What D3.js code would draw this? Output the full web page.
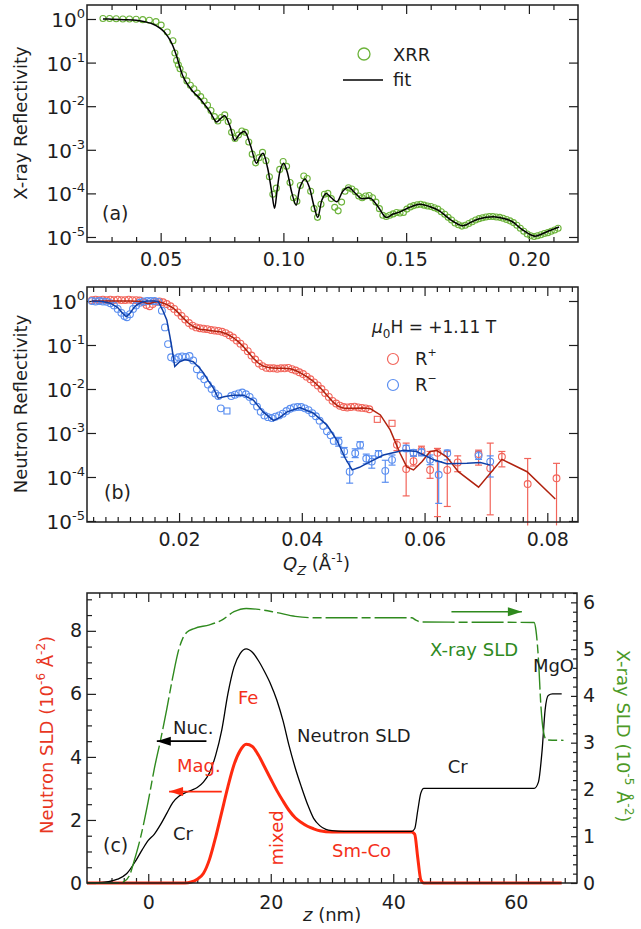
<!DOCTYPE html>
<html><head><meta charset="utf-8">
<script src="https://cdn.jsdelivr.net/npm/d3@7"></script>
<style>body{margin:0;background:#fff}svg{display:block}</style>
</head><body>
<svg width="641" height="929"></svg>
<script>
// ---------------- DATA ----------------
// Panel (a): X-ray reflectivity, [Qz (1/A), log10 R]
const xrrData = [[0.0265,0.01],[0.0292,0.01],[0.0319,0.005],[0.0346,0.0],[0.0373,0.0],[0.0400,-0.005],[0.0427,-0.015],[0.0454,-0.03],[0.0481,-0.06],[0.0502,-0.14],[0.0527,-0.3],[0.0550,-0.5],[0.0558,-0.78],[0.0565,-0.95],[0.0572,-1.05],[0.0579,-1.14],[0.0593,-1.28],[0.0607,-1.42],[0.0621,-1.52],[0.0635,-1.6],[0.0649,-1.7],[0.0663,-1.78],[0.0677,-1.88],[0.0691,-1.98],[0.0705,-2.1],[0.0719,-2.24],[0.0733,-2.34],[0.0747,-2.26],[0.0761,-2.2],[0.0775,-2.35],[0.0789,-2.6],[0.0803,-2.74],[0.0817,-2.66],[0.0831,-2.57],[0.0845,-2.6],[0.0859,-2.82],[0.0873,-3.1],[0.0887,-3.3],[0.0901,-3.18],[0.0915,-3.06],[0.0929,-3.25],[0.0943,-3.62],[0.0957,-4.02],[0.0971,-3.88],[0.0985,-3.45],[0.0999,-3.27],[0.1013,-3.38],[0.1027,-3.75],[0.1041,-4.1],[0.1055,-4.18],[0.1069,-3.82],[0.1083,-3.6],[0.1097,-3.66],[0.1111,-3.95],[0.1125,-4.35],[0.1139,-4.55],[0.1153,-4.25],[0.1167,-4.02],[0.1181,-4.0],[0.1195,-4.12],[0.1209,-4.32],[0.1223,-4.4],[0.1237,-4.2],[0.1251,-3.95],[0.1265,-3.87],[0.1279,-3.9],[0.1293,-3.96],[0.1307,-4.06],[0.1321,-4.1],[0.1335,-4.06],[0.1349,-4.05],[0.1363,-4.1],[0.1377,-4.2],[0.1391,-4.35],[0.1405,-4.5],[0.1419,-4.53],[0.1433,-4.5],[0.1447,-4.47],[0.1461,-4.44],[0.1475,-4.45],[0.1489,-4.44],[0.1503,-4.36],[0.1517,-4.31],[0.1531,-4.28],[0.1545,-4.26],[0.1559,-4.25],[0.1573,-4.27],[0.1587,-4.29],[0.1601,-4.3],[0.1615,-4.33],[0.1629,-4.36],[0.1643,-4.42],[0.1657,-4.48],[0.1671,-4.55],[0.1685,-4.61],[0.1699,-4.68],[0.1713,-4.72],[0.1727,-4.75],[0.1741,-4.73],[0.1755,-4.69],[0.1769,-4.65],[0.1783,-4.61],[0.1797,-4.58],[0.1811,-4.56],[0.1825,-4.54],[0.1839,-4.53],[0.1853,-4.53],[0.1867,-4.54],[0.1881,-4.55],[0.1895,-4.57],[0.1909,-4.6],[0.1923,-4.63],[0.1937,-4.67],[0.1951,-4.73],[0.1965,-4.8],[0.1979,-4.87],[0.1993,-4.93],[0.2007,-4.97],[0.2021,-4.99],[0.2035,-4.97],[0.2049,-4.95],[0.2063,-4.92],[0.2077,-4.9],[0.2091,-4.87],[0.2105,-4.84],[0.2119,-4.8]];
const xrrFit = [[0.0265,0.0],[0.030,-0.005],[0.035,-0.015],[0.040,-0.03],[0.044,-0.07],[0.047,-0.12],[0.0497,-0.21],[0.0515,-0.3],[0.0525,-0.37],[0.054,-0.5],[0.055,-0.62],[0.0565,-0.85],[0.0578,-1.1],[0.059,-1.3],[0.0606,-1.47],[0.062,-1.58],[0.0632,-1.67],[0.0645,-1.74],[0.0659,-1.82],[0.0673,-1.92],[0.0687,-2.02],[0.0700,-2.12],[0.0712,-2.24],[0.0727,-2.36],[0.0745,-2.28],[0.0761,-2.22],[0.0782,-2.45],[0.0802,-2.78],[0.0822,-2.64],[0.0842,-2.58],[0.0866,-2.9],[0.0890,-3.31],[0.0904,-3.16],[0.0917,-3.08],[0.0935,-3.4],[0.0952,-3.95],[0.0964,-4.34],[0.0975,-3.9],[0.0988,-3.45],[0.1001,-3.31],[0.1015,-3.5],[0.1035,-4.0],[0.1052,-4.27],[0.1068,-3.85],[0.1088,-3.67],[0.1105,-3.85],[0.1125,-4.3],[0.1140,-4.55],[0.1157,-4.15],[0.1174,-4.0],[0.1195,-4.1],[0.1218,-4.19],[0.1242,-3.95],[0.1266,-3.86],[0.1290,-3.98],[0.1317,-4.12],[0.1337,-4.11],[0.1357,-4.12],[0.1385,-4.3],[0.1418,-4.55],[0.1445,-4.48],[0.1472,-4.43],[0.1510,-4.33],[0.1554,-4.25],[0.1595,-4.3],[0.1635,-4.4],[0.168,-4.6],[0.1730,-4.74],[0.1765,-4.66],[0.1798,-4.58],[0.1865,-4.54],[0.1900,-4.58],[0.1933,-4.65],[0.197,-4.82],[0.2021,-4.98],[0.2045,-4.95],[0.2069,-4.89],[0.2100,-4.82],[0.2123,-4.77]];

// Panel (b): neutron reflectivity, [Qz, log10 R]; error arrays [Qz, log10 R, log10 low, log10 high]
const rPlusData = [[0.0058,0.02],[0.0064,0.03],[0.0070,0.02],[0.0076,0.03],[0.0082,0.02],[0.0088,0.03],[0.0094,0.02],[0.0100,0.03],[0.0106,0.02],[0.0112,0.02],[0.0118,0.03],[0.0124,0.02],[0.0130,0.02],[0.0136,0.01],[0.0142,-0.03],[0.0147,-0.09],[0.0152,-0.12],[0.0157,-0.07],[0.0162,-0.02],[0.0168,-0.01],[0.0174,-0.03],[0.0180,-0.07],[0.0186,-0.12],[0.0192,-0.18],[0.0198,-0.26],[0.0204,-0.34],[0.0210,-0.42],[0.0216,-0.5],[0.0222,-0.56],[0.0228,-0.6],[0.0234,-0.62],[0.0240,-0.63],[0.0246,-0.64],[0.0252,-0.66],[0.0258,-0.67],[0.0264,-0.68],[0.0270,-0.7],[0.0276,-0.73],[0.0282,-0.78],[0.0288,-0.83],[0.0294,-0.9],[0.0300,-0.97],[0.0306,-1.05],[0.0312,-1.14],[0.0318,-1.24],[0.0324,-1.33],[0.0330,-1.42],[0.0336,-1.48],[0.0342,-1.52],[0.0348,-1.53],[0.0354,-1.53],[0.0360,-1.54],[0.0366,-1.53],[0.0372,-1.53],[0.0378,-1.52],[0.0384,-1.55],[0.0390,-1.58],[0.0396,-1.62],[0.0402,-1.66],[0.0408,-1.72],[0.0414,-1.78],[0.0420,-1.85],[0.0426,-1.92],[0.0432,-2.0],[0.0438,-2.09],[0.0444,-2.18],[0.0450,-2.27],[0.0456,-2.33],[0.0462,-2.38],[0.0468,-2.41],[0.0474,-2.42],[0.0480,-2.41],[0.0486,-2.4],[0.0492,-2.42],[0.0498,-2.43],[0.0504,-2.44],[0.0510,-2.46]];
const rPlusSquares = [[0.0523,-2.69],[0.0547,-2.78]];
const rPlusErr = [[0.0555,-3.27,-3.4,-3.15],[0.0570,-3.82,-4.43,-3.23],[0.0582,-3.64,-3.75,-3.52],[0.0595,-3.39,-3.5,-3.3],[0.0609,-3.84,-4.03,-3.42],[0.0621,-3.45,-4.9,-3.35],[0.0637,-3.84,-4.67,-3.42],[0.0654,-3.67,-3.88,-3.52],[0.0688,-3.48,-3.73,-3.39],[0.0707,-3.80,-4.86,-3.23],[0.0726,-3.54,-3.77,-3.42],[0.0768,-4.16,-5.1,-3.58],[0.0815,-4.03,-5.1,-3.69]];
const rPlusFit = [[0.0058,0.0],[0.0090,0.0],[0.0120,0.0],[0.0140,-0.01],[0.0147,-0.05],[0.0152,-0.06],[0.0158,-0.03],[0.0166,-0.01],[0.0175,-0.05],[0.0183,-0.1],[0.0191,-0.17],[0.0199,-0.27],[0.0207,-0.39],[0.0215,-0.5],[0.0223,-0.58],[0.0234,-0.64],[0.0245,-0.66],[0.0256,-0.68],[0.0267,-0.70],[0.0278,-0.75],[0.0288,-0.83],[0.0297,-0.93],[0.0305,-1.04],[0.0313,-1.17],[0.0321,-1.30],[0.0329,-1.41],[0.0337,-1.48],[0.0348,-1.52],[0.0359,-1.53],[0.0370,-1.53],[0.0381,-1.54],[0.0390,-1.58],[0.0397,-1.63],[0.0408,-1.72],[0.0419,-1.83],[0.0430,-1.97],[0.0441,-2.14],[0.0451,-2.3],[0.0460,-2.4],[0.0470,-2.44],[0.0485,-2.44],[0.0500,-2.43],[0.0512,-2.45],[0.0528,-2.59],[0.0544,-2.93],[0.0560,-3.46],[0.0571,-3.77],[0.0582,-3.84],[0.0596,-3.65],[0.0609,-3.42],[0.0620,-3.40],[0.0636,-3.54],[0.0655,-3.88],[0.0688,-4.23],[0.0726,-3.60],[0.0767,-3.88],[0.0813,-4.50]];
const rMinusData = [[0.0058,0.0],[0.0064,-0.01],[0.0070,0.0],[0.0076,-0.01],[0.0082,-0.02],[0.0088,-0.05],[0.0094,-0.1],[0.0100,-0.18],[0.0106,-0.27],[0.0111,-0.34],[0.0115,-0.37],[0.0120,-0.3],[0.0125,-0.18],[0.0130,-0.1],[0.0136,-0.04],[0.0142,-0.01],[0.0148,0.0],[0.0154,0.0],[0.0160,0.0],[0.0166,-0.02],[0.0172,-0.22],[0.0177,-0.6],[0.0182,-0.98],[0.0187,-1.28],[0.0193,-1.32],[0.0199,-1.28],[0.0205,-1.26],[0.0211,-1.27],[0.0217,-1.25],[0.0223,-1.35],[0.0229,-1.55],[0.0235,-1.7],[0.0241,-1.78],[0.0247,-1.9],[0.0253,-2.0],[0.0259,-2.1],[0.0264,-2.16],[0.0268,-2.44],[0.0285,-2.16],[0.0291,-2.13],[0.0297,-2.1],[0.0303,-2.08],[0.0309,-2.12],[0.0315,-2.18],[0.0321,-2.28],[0.0327,-2.4],[0.0333,-2.52],[0.0339,-2.6],[0.0345,-2.64],[0.0351,-2.66],[0.0357,-2.63],[0.0363,-2.6],[0.0369,-2.56],[0.0375,-2.5],[0.0381,-2.45],[0.0387,-2.42],[0.0393,-2.41],[0.0399,-2.41],[0.0405,-2.44],[0.0411,-2.48],[0.0417,-2.55],[0.0423,-2.62],[0.0429,-2.72],[0.0435,-2.84],[0.0441,-2.96],[0.0447,-3.05],[0.0452,-3.18]];
const rMinusSquares = [[0.0278,-2.5]];
const rMinusErr = [[0.0460,-3.2,-3.3,-3.1],[0.0469,-3.42,-3.55,-3.33],[0.0478,-3.88,-4.14,-3.65],[0.0487,-3.46,-3.56,-3.36],[0.0495,-3.27,-3.36,-3.2],[0.0505,-3.58,-3.7,-3.48],[0.0514,-3.65,-3.8,-3.52],[0.0525,-3.48,-3.55,-3.4],[0.0536,-3.86,-4.12,-3.62],[0.0547,-3.61,-3.73,-3.5],[0.0570,-3.35,-3.42,-3.28],[0.0582,-3.45,-3.53,-3.38],[0.0595,-3.44,-3.52,-3.36],[0.0609,-3.61,-3.72,-3.5],[0.0623,-3.95,-4.6,-3.65],[0.0637,-3.46,-3.61,-3.39],[0.0688,-3.52,-3.6,-3.42],[0.0707,-3.65,-4.0,-3.52]];
const rMinusFit = [[0.0058,0.0],[0.0075,-0.01],[0.0088,-0.05],[0.0100,-0.15],[0.0108,-0.28],[0.0114,-0.36],[0.0120,-0.28],[0.0126,-0.16],[0.0131,-0.09],[0.0139,-0.03],[0.0147,0.0],[0.0160,0.0],[0.0166,-0.01],[0.0173,-0.2],[0.0180,-0.43],[0.0185,-0.8],[0.0188,-1.04],[0.0193,-1.49],[0.0201,-1.38],[0.0210,-1.33],[0.0223,-1.38],[0.0232,-1.5],[0.0240,-1.64],[0.0248,-1.82],[0.0256,-1.98],[0.0264,-2.21],[0.0275,-2.17],[0.0288,-2.14],[0.0305,-2.14],[0.0321,-2.25],[0.0337,-2.52],[0.0354,-2.72],[0.0365,-2.64],[0.0376,-2.52],[0.0397,-2.42],[0.0419,-2.55],[0.0441,-2.82],[0.0457,-3.16],[0.0471,-3.58],[0.0482,-3.84],[0.0494,-3.78],[0.0506,-3.69],[0.0533,-3.5],[0.0566,-3.39],[0.0587,-3.42],[0.0615,-3.61],[0.0636,-3.70],[0.0669,-3.69],[0.0691,-3.67],[0.0707,-3.73]];

// Panel (c): SLD profiles, [z (nm), value]
const nucSLD = [[-10,0],[-8,0.01],[-6.5,0.04],[-5,0.12],[-3.5,0.3],[-2,0.72],[-1,1.05],[0,1.35],[1,1.55],[2,1.85],[3,2.2],[4,2.55],[5,2.75],[6,2.86],[7,2.94],[8,3.03],[9,3.2],[10,3.5],[11,4.05],[12,4.85],[13,6.0],[14,6.85],[15,7.28],[16,7.43],[17,7.32],[18,7.05],[19,6.7],[20,6.3],[21,5.8],[22,5.15],[23,4.35],[24,3.65],[25,3.05],[26,2.5],[27,2.05],[28,1.82],[29,1.7],[30,1.66],[32,1.64],[43,1.64],[43.5,1.72],[44,2.3],[44.5,2.85],[45,3.0],[63,3.0],[63.7,3.2],[64.3,4.2],[64.8,5.5],[65.3,5.95],[66,6.0],[67.5,6.0]];
const magSLD = [[-10,0],[6,0],[7,0.03],[8,0.12],[9,0.3],[10,0.75],[11,1.45],[12,2.25],[13,3.05],[14,3.75],[15,4.2],[16,4.4],[17,4.33],[18,4.05],[19,3.68],[20,3.3],[21,2.93],[22,2.6],[23,2.3],[24,2.07],[25,1.92],[26,1.8],[27,1.72],[28,1.66],[30,1.62],[43,1.62],[43.5,1.55],[44,0.8],[44.5,0.1],[45,0],[67.5,0]];
const xraySLD = [[-10,0],[-5,0],[-4,0.03],[-3,0.18],[-2.4,0.43],[-1.3,0.95],[0,1.75],[1,2.45],[2,3.05],[3,3.7],[4,4.4],[5,5.0],[5.6,5.22],[6.3,5.36],[7.5,5.44],[10,5.52],[12,5.62],[14,5.8],[16,5.87],[18,5.85],[21,5.78],[24,5.7],[27,5.67],[30,5.67],[43,5.67],[43.7,5.62],[44.5,5.58],[63,5.57],[63.3,5.4],[63.7,4.8],[64.1,3.8],[64.5,3.25],[65,3.06],[67.8,3.05]];

// tick values
const decadeExps = [0,-1,-2,-3,-4,-5];
const xTicksA = [0.05,0.10,0.15,0.20];
const xTicksB = [0.02,0.04,0.06,0.08];
const xTicksC = [0,20,40,60];
const yTicksCL = [0,2,4,6,8];
const yTicksCR = [0,1,2,3,4,5,6];

// annotations for panel (c): [text, z, left-axis value, colour key]
const annotC = [["Fe",14.65,5.68,"red"],["Nuc.",4.04,4.73,"ink"],["Neutron SLD",24.3,4.47,"ink"],["X-ray SLD",46.0,7.2,"green"],["MgO",62.8,6.69,"ink"],["Mag.",4.69,3.52,"red"],["Cr",4.04,1.36,"ink"],["Sm-Co",30.0,0.82,"red"],["Cr",48.9,3.49,"ink"]];

// ---------------- DRAWING ----------------
const svg = d3.select("svg");
const FF = "'DejaVu Sans', sans-serif";
const INK = "#1e1e1e";
const COL = {ink: INK, red: "#f4301a", green: "#2f8a1e",
  xrr: "#6cb33a", rp: "#f2645a", rpFit: "#b0220e", rm: "#5a8ef0", rmFit: "#0f3fa6",
  mag: "#ff2a0f", xray: "#2f8a1e", labRed: "#e8361f", labGreen: "#4c9a27"};

function tickAxis(gen, scale, values, size, tr, fmt, pad, fs) {
  const ax = gen(scale).tickValues(values).tickSize(-size).tickPadding(pad || 3).tickFormat(fmt || "");
  const g = svg.append("g").attr("transform", tr).call(ax);
  g.select(".domain").remove();
  g.selectAll(".tick line").attr("stroke", INK).attr("stroke-width", 1.2);
  g.selectAll(".tick text").attr("font-family", FF).attr("font-size", fs || 19).attr("fill", INK);
  return g;
}
function frame(b) {
  svg.append("rect").attr("x", b.l).attr("y", b.t).attr("width", b.r - b.l).attr("height", b.b - b.t)
    .attr("fill", "none").attr("stroke", INK).attr("stroke-width", 1.5);
}
function decadeLabels(y, x0) {
  decadeExps.forEach(e => {
    const t = svg.append("text").attr("x", x0 - 2).attr("y", y(Math.pow(10, e)) + 8)
      .attr("text-anchor", "end").attr("font-family", FF).attr("font-size", 20).attr("fill", INK);
    t.append("tspan").text("10");
    t.append("tspan").attr("dy", -9).attr("font-size", 13).text(String(e));
  });
}
function text(x, y, str, opt) {
  opt = opt || {};
  return svg.append("text").attr("x", x).attr("y", y).attr("font-family", FF)
    .attr("font-size", opt.fs || 18).attr("fill", opt.fill || INK)
    .attr("text-anchor", opt.anchor || "start").text(str);
}
const P = v => Math.pow(10, v);
const minorRange = (a, b, s, majors) => d3.range(Math.round(a / s), Math.round(b / s) + 1)
  .map(i => +(i * s).toFixed(6)).filter(v => !majors.some(m => Math.abs(m - v) < s / 10));

// ===== Panel (a) =====
const A = {l: 87, r: 578, t: 5, b: 242};
const xa = d3.scaleLinear().domain([0.02, 0.22]).range([A.l, A.r]);
const ya = d3.scaleLog().domain([P(-5.115), P(0.321)]).range([A.b, A.t]);
const minorA = minorRange(0.03, 0.21, 0.01, xTicksA);
tickAxis(d3.axisBottom, xa, xTicksA, 9, `translate(0,${A.b})`, d3.format(".2f"), 10.5);
tickAxis(d3.axisBottom, xa, minorA, 5, `translate(0,${A.b})`);
tickAxis(d3.axisTop, xa, xTicksA, 9, `translate(0,${A.t})`);
tickAxis(d3.axisTop, xa, minorA, 5, `translate(0,${A.t})`);
tickAxis(d3.axisLeft, ya, decadeExps.map(P), 9, `translate(${A.l},0)`);
tickAxis(d3.axisRight, ya, decadeExps.map(P), 9, `translate(${A.r},0)`);
decadeLabels(ya, A.l);

svg.append("g").selectAll("circle").data(xrrData).join("circle")
  .attr("cx", d => xa(d[0])).attr("cy", d => ya(P(d[1]))).attr("r", 3)
  .attr("fill", "none").attr("stroke", COL.xrr).attr("stroke-width", 1.1);
svg.append("path").datum(xrrFit)
  .attr("d", d3.line().x(d => xa(d[0])).y(d => ya(P(d[1]))).curve(d3.curveCatmullRom.alpha(0.5)))
  .attr("fill", "none").attr("stroke", "#000").attr("stroke-width", 1.5);

// legend (a)
svg.append("circle").attr("cx", 364).attr("cy", 54).attr("r", 6).attr("fill", "none").attr("stroke", COL.xrr).attr("stroke-width", 1.3);
text(393, 61, "XRR");
svg.append("line").attr("x1", 343).attr("x2", 383).attr("y1", 80).attr("y2", 80).attr("stroke", "#000").attr("stroke-width", 1.5);
text(393, 86, "fit");
text(102, 220, "(a)", {fs: 19});
text(0, 0, "X-ray Reflectivity").attr("text-anchor", "middle").attr("transform", "translate(27,123) rotate(-90)");

// ===== Panel (b) =====
const B = {l: 87, r: 578, t: 287, b: 522};
const xb = d3.scaleLinear().domain([0.005, 0.085]).range([B.l, B.r]);
const yb = d3.scaleLog().domain([P(-5.023), P(0.318)]).range([B.b, B.t]);
const minorB = minorRange(0.006, 0.084, 0.002, xTicksB);
tickAxis(d3.axisBottom, xb, xTicksB, 9, `translate(0,${B.b})`, d3.format(".2f"), 10.5);
tickAxis(d3.axisBottom, xb, minorB, 5, `translate(0,${B.b})`);
tickAxis(d3.axisTop, xb, xTicksB, 9, `translate(0,${B.t})`);
tickAxis(d3.axisTop, xb, minorB, 5, `translate(0,${B.t})`);
tickAxis(d3.axisLeft, yb, decadeExps.map(P), 9, `translate(${B.l},0)`);
tickAxis(d3.axisRight, yb, decadeExps.map(P), 9, `translate(${B.r},0)`);
decadeLabels(yb, B.l);

function errBars(data, color) {
  const g = svg.append("g").attr("stroke", color).attr("stroke-width", 1.2);
  const bottom = yb.domain()[0];
  data.forEach(d => {
    const x = xb(d[0]);
    g.append("line").attr("x1", x).attr("x2", x).attr("y1", yb(P(d[2]))).attr("y2", yb(P(d[3])));
    g.append("line").attr("x1", x - 3.5).attr("x2", x + 3.5).attr("y1", yb(P(d[3]))).attr("y2", yb(P(d[3])));
    if (P(d[2]) > bottom) g.append("line").attr("x1", x - 3.5).attr("x2", x + 3.5).attr("y1", yb(P(d[2]))).attr("y2", yb(P(d[2])));
  });
}
function markers(data, color, shape) {
  const g = svg.append("g");
  if (shape === "sq") {
    g.selectAll("rect").data(data).join("rect")
      .attr("x", d => xb(d[0]) - 3).attr("y", d => yb(P(d[1])) - 3).attr("width", 6).attr("height", 6)
      .attr("fill", "none").attr("stroke", color).attr("stroke-width", 1.1);
  } else {
    g.selectAll("circle").data(data).join("circle")
      .attr("cx", d => xb(d[0])).attr("cy", d => yb(P(d[1]))).attr("r", 3.4)
      .attr("fill", "none").attr("stroke", color).attr("stroke-width", 1.1);
  }
}
const lineB = d3.line().x(d => xb(d[0])).y(d => yb(P(d[1])));
errBars(rPlusErr, COL.rp);
errBars(rMinusErr, COL.rm);
markers(rPlusData, COL.rp); markers(rPlusErr, COL.rp); markers(rPlusSquares, COL.rp, "sq");
markers(rMinusData, COL.rm); markers(rMinusErr, COL.rm); markers(rMinusSquares, COL.rm, "sq");
svg.append("path").datum(rPlusFit).attr("d", lineB).attr("fill", "none").attr("stroke", COL.rpFit).attr("stroke-width", 1.5);
svg.append("path").datum(rMinusFit).attr("d", lineB).attr("fill", "none").attr("stroke", COL.rmFit).attr("stroke-width", 1.5);

// legend (b)
{
  const t = svg.append("text").attr("x", 372).attr("y", 333).attr("font-family", FF).attr("font-size", 17).attr("fill", INK);
  t.append("tspan").attr("font-style", "italic").text("\u03BC");
  t.append("tspan").attr("dy", 5).attr("font-size", 12).text("0");
  t.append("tspan").attr("dy", -5).text("H = +1.11 T");
  svg.append("circle").attr("cx", 393).attr("cy", 359).attr("r", 5.5).attr("fill", "none").attr("stroke", COL.rp).attr("stroke-width", 1.2);
  svg.append("circle").attr("cx", 393).attr("cy", 385).attr("r", 5.5).attr("fill", "none").attr("stroke", COL.rm).attr("stroke-width", 1.2);
  const r1 = text(415, 365, ""); r1.append("tspan").text("R"); r1.append("tspan").attr("dy", -9).attr("font-size", 11).text("+");
  const r2 = text(415, 391, ""); r2.append("tspan").text("R"); r2.append("tspan").attr("dy", -9).attr("font-size", 11).text("\u2212");
}
text(104, 499, "(b)", {fs: 19});
text(0, 0, "Neutron Reflectivity").attr("text-anchor", "middle").attr("transform", "translate(27,404) rotate(-90)");
{
  const t = text(283, 570, "");
  t.append("tspan").attr("font-style", "italic").text("Q");
  t.append("tspan").attr("font-style", "italic").attr("dy", 5).attr("font-size", 13).text("Z");
  t.append("tspan").attr("dy", -5).text(" (\u00C5");
  t.append("tspan").attr("dy", -8).attr("font-size", 12).text("-1");
  t.append("tspan").attr("dy", 8).text(")");
}

// ===== Panel (c) =====
const C = {l: 87, r: 577, t: 593, b: 883};
const xc = d3.scaleLinear().domain([-10, 70]).range([C.l, C.r]);
const ycl = d3.scaleLinear().domain([0, 9.2]).range([C.b, C.t]);
const ycr = d3.scaleLinear().domain([0, 6.2]).range([C.b, C.t]);
const minorCX = minorRange(-8, 68, 2, xTicksC);
tickAxis(d3.axisBottom, xc, xTicksC, 9, `translate(0,${C.b})`, d3.format("d"), 13);
tickAxis(d3.axisBottom, xc, minorCX, 5, `translate(0,${C.b})`);
tickAxis(d3.axisTop, xc, xTicksC, 9, `translate(0,${C.t})`);
tickAxis(d3.axisTop, xc, minorCX, 5, `translate(0,${C.t})`);
tickAxis(d3.axisLeft, ycl, yTicksCL, 9, `translate(${C.l},0)`, d3.format("d"), 5);
tickAxis(d3.axisLeft, ycl, minorRange(0.5, 9, 0.5, yTicksCL), 5, `translate(${C.l},0)`);
tickAxis(d3.axisRight, ycr, yTicksCR, 6, `translate(${C.r},0)`, d3.format("d"), 6);
tickAxis(d3.axisRight, ycr, minorRange(0.2, 6.2, 0.2, yTicksCR), 4, `translate(${C.r},0)`);

const lineCL = d3.line().x(d => xc(d[0])).y(d => ycl(d[1])).curve(d3.curveMonotoneX);
const lineCR = d3.line().x(d => xc(d[0])).y(d => ycr(d[1])).curve(d3.curveMonotoneX);
svg.append("path").datum(magSLD).attr("d", lineCL).attr("fill", "none").attr("stroke", COL.mag).attr("stroke-width", 3);
svg.append("path").datum(nucSLD).attr("d", lineCL).attr("fill", "none").attr("stroke", "#000").attr("stroke-width", 1.3);
svg.append("path").datum(xraySLD).attr("d", lineCR).attr("fill", "none").attr("stroke", COL.xray).attr("stroke-width", 1.4).attr("stroke-dasharray", "32,4,9,4");

// arrows
function arrow(x1, x2, y, color, w) {
  svg.append("line").attr("x1", x1).attr("x2", x2).attr("y1", y).attr("y2", y).attr("stroke", color).attr("stroke-width", w);
  const d = x2 < x1 ? 1 : -1;
  svg.append("path").attr("d", `M${x2},${y} L${x2 + d * 14},${y - 4.5} L${x2 + d * 14},${y + 4.5} Z`).attr("fill", color);
}
arrow(xc(9.5), xc(1.4), ycl(4.5), "#000", 1.6);
arrow(xc(12), xc(3.4), ycl(2.9), COL.mag, 1.8);
arrow(xc(49.5), xc(61), ycr(5.8), COL.xray, 1.6);

annotC.forEach(a => text(xc(a[1]), ycl(a[2]), a[0], {fill: COL[a[3]]}));
text(0, 0, "mixed", {fill: COL.red, anchor: "middle"}).attr("transform", `translate(${xc(22)},${ycl(1.43)}) rotate(-90)`);
text(103, 852, "(c)", {fs: 19});
{
  const t = text(0, 0, "", {fill: COL.labRed, anchor: "middle"}).attr("transform", "translate(53,735) rotate(-90)");
  t.append("tspan").text("Neutron SLD (10");
  t.append("tspan").attr("dy", -8).attr("font-size", 12).text("-6");
  t.append("tspan").attr("dy", 8).text(" \u00C5");
  t.append("tspan").attr("dy", -8).attr("font-size", 12).text("-2");
  t.append("tspan").attr("dy", 8).text(")");
}
{
  const t = text(0, 0, "", {fill: COL.labGreen, anchor: "middle"}).attr("transform", "translate(617,736) rotate(90)");
  t.append("tspan").text("X-ray SLD (10");
  t.append("tspan").attr("dy", -8).attr("font-size", 12).text("-5");
  t.append("tspan").attr("dy", 8).text(" \u00C5");
  t.append("tspan").attr("dy", -8).attr("font-size", 12).text("-2");
  t.append("tspan").attr("dy", 8).text(")");
}
{
  const t = text(303, 921, "");
  t.append("tspan").attr("font-style", "italic").text("z");
  t.append("tspan").text(" (nm)");
}

frame(A); frame(B); frame(C);
</script>
</body></html>
